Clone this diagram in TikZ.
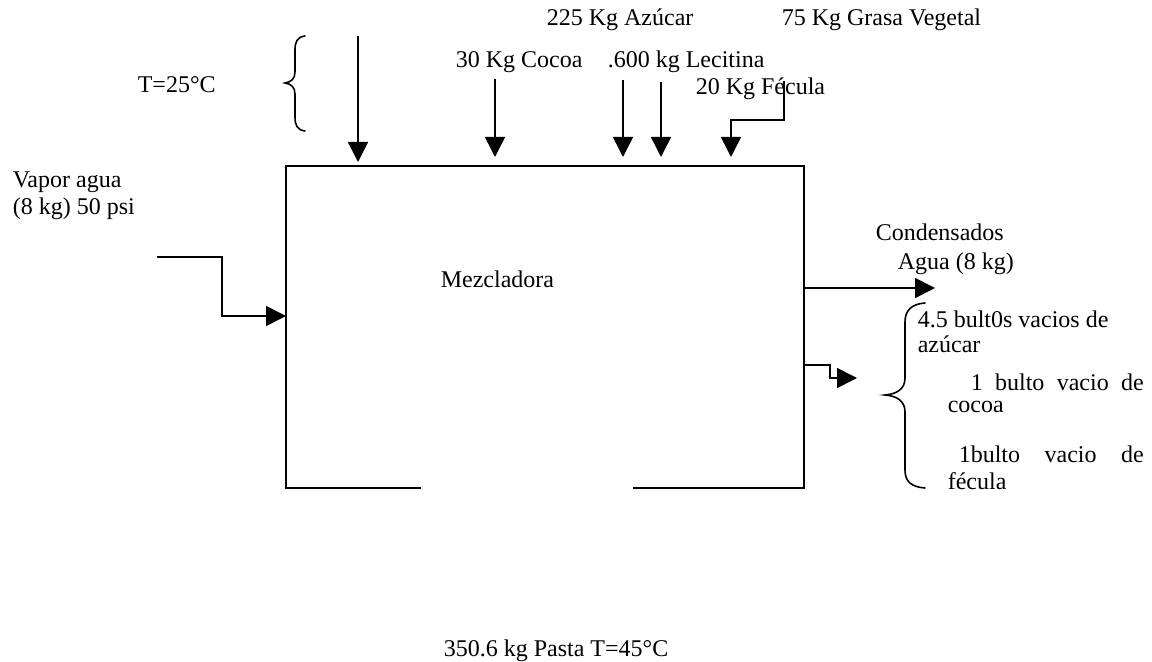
\documentclass[tikz,border=0pt]{standalone}
\usepackage{fontspec}
\setmainfont{Liberation Serif}
\usepackage{tikz}
\usetikzlibrary{arrows.meta, positioning, calc}

\begin{document}
\begin{tikzpicture}[x=0.5pt, y=-0.5pt, line width=0.8pt,
    every node/.style={font=\fontsize{12}{14}\selectfont, inner sep=0pt, anchor=base west},
    flow/.style={-{Triangle[length=10pt, width=10pt]}},
    bracepath/.style={line width=0.8pt, line cap=round}]
        \useasboundingbox (0,0) rectangle (1152,662);
        % mixer outline (open at the bottom)
        \coordinate (bxNW) at (286,166);
        \coordinate (bxNE) at (804,166);
        \coordinate (bxSW) at (286,488);
        \coordinate (bxSE) at (804,488);
        \coordinate (gapL) at (421,488);
        \coordinate (gapR) at (633,488);
        \draw (gapL) -- (bxSW) -- (bxNW) -- (bxNE) -- (bxSE) -- (gapR);
        \node (mez) at (440,288) {Mezcladora};
        % inputs from the top
        \node (azu) at (546,26) {225 Kg Az\'ucar};
        \node (gra) at (781,26) {75 Kg Grasa Vegetal};
        \node (coc) at (455,68) {30 Kg Cocoa};
        \node (lec) at (607,68) {.600 kg Lecitina};
        \node (fec) at (695,95) {20 Kg F\'ecula};
        \node (temp) at (137,93) {T=25\textdegree C};
        \coordinate (a1s) at (358,36);  \coordinate (a1e) at (358,162);
        \coordinate (a2s) at (495,79);  \coordinate (a2e) at (495,157);
        \coordinate (a3s) at (623,80);  \coordinate (a3e) at (623,157);
        \coordinate (a4s) at (661,82);  \coordinate (a4e) at (661,157);
        \coordinate (a5s) at (784,81);  \coordinate (a5e) at (731,157);
        \draw[flow] (a1s) -- (a1e);
        \draw[flow] (a2s) -- (a2e);
        \draw[flow] (a3s) -- (a3e);
        \draw[flow] (a4s) -- (a4e);
        \draw[flow] (a5s) -- (784,120) -| (a5e);
        % brace next to the temperature
        \draw[bracepath] (305,36) .. controls (297,37) and (295,42) .. (295,50)
          -- (295,72) .. controls (295,79) and (291,82) .. (285,83)
          .. controls (291,84) and (295,87) .. (295,94)
          -- (295,117) .. controls (295,125) and (297,130) .. (305,131);
        % steam in
        \node (vap1) at (12,188) {Vapor agua};
        \node (vap2) at (12,215) {(8 kg) 50 psi};
        \coordinate (vapS) at (157,257);
        \coordinate (vapE) at (286,316);
        \draw[flow] (vapS) -- (222,257) |- (vapE);
        % condensate out
        \node (cond) at (875,241) {Condensados};
        \node (agua) at (897,270) {Agua (8 kg)};
        \coordinate (conS) at (804,288);
        \coordinate (conE) at (935,288);
        \draw[flow] (conS) -- (conE);
        % empty bags out
        \coordinate (bagS) at (804,365);
        \coordinate (bagE) at (857,378);
        \draw[flow] (bagS) -- (830,365) |- (bagE);
        \draw[bracepath] (925,303) .. controls (912,304) and (905,310) .. (905,322)
          -- (905,378) .. controls (905,389) and (897,394) .. (885,395)
          .. controls (897,396) and (905,401) .. (905,412)
          -- (905,470) .. controls (905,482) and (912,487) .. (925,488);
        \node (bag1) at (917,328) {4.5 bult0s vacios de};
        \node (bag1b) at (917,353) {az\'ucar};
        \node (bag2) at (970,391) {\makebox[86.5pt][s]{1 bulto vacio de}};
        \node (bag2b) at (947,413) {cocoa};
        \node (bag3) at (958,463) {\makebox[92.5pt][s]{1bulto vacio de}};
        \node (bag3b) at (947,490) {f\'ecula};
        % product
        \node (pasta) at (443,656) {350.6 kg Pasta T=45\textdegree C};
      \end{tikzpicture}
\end{document}
